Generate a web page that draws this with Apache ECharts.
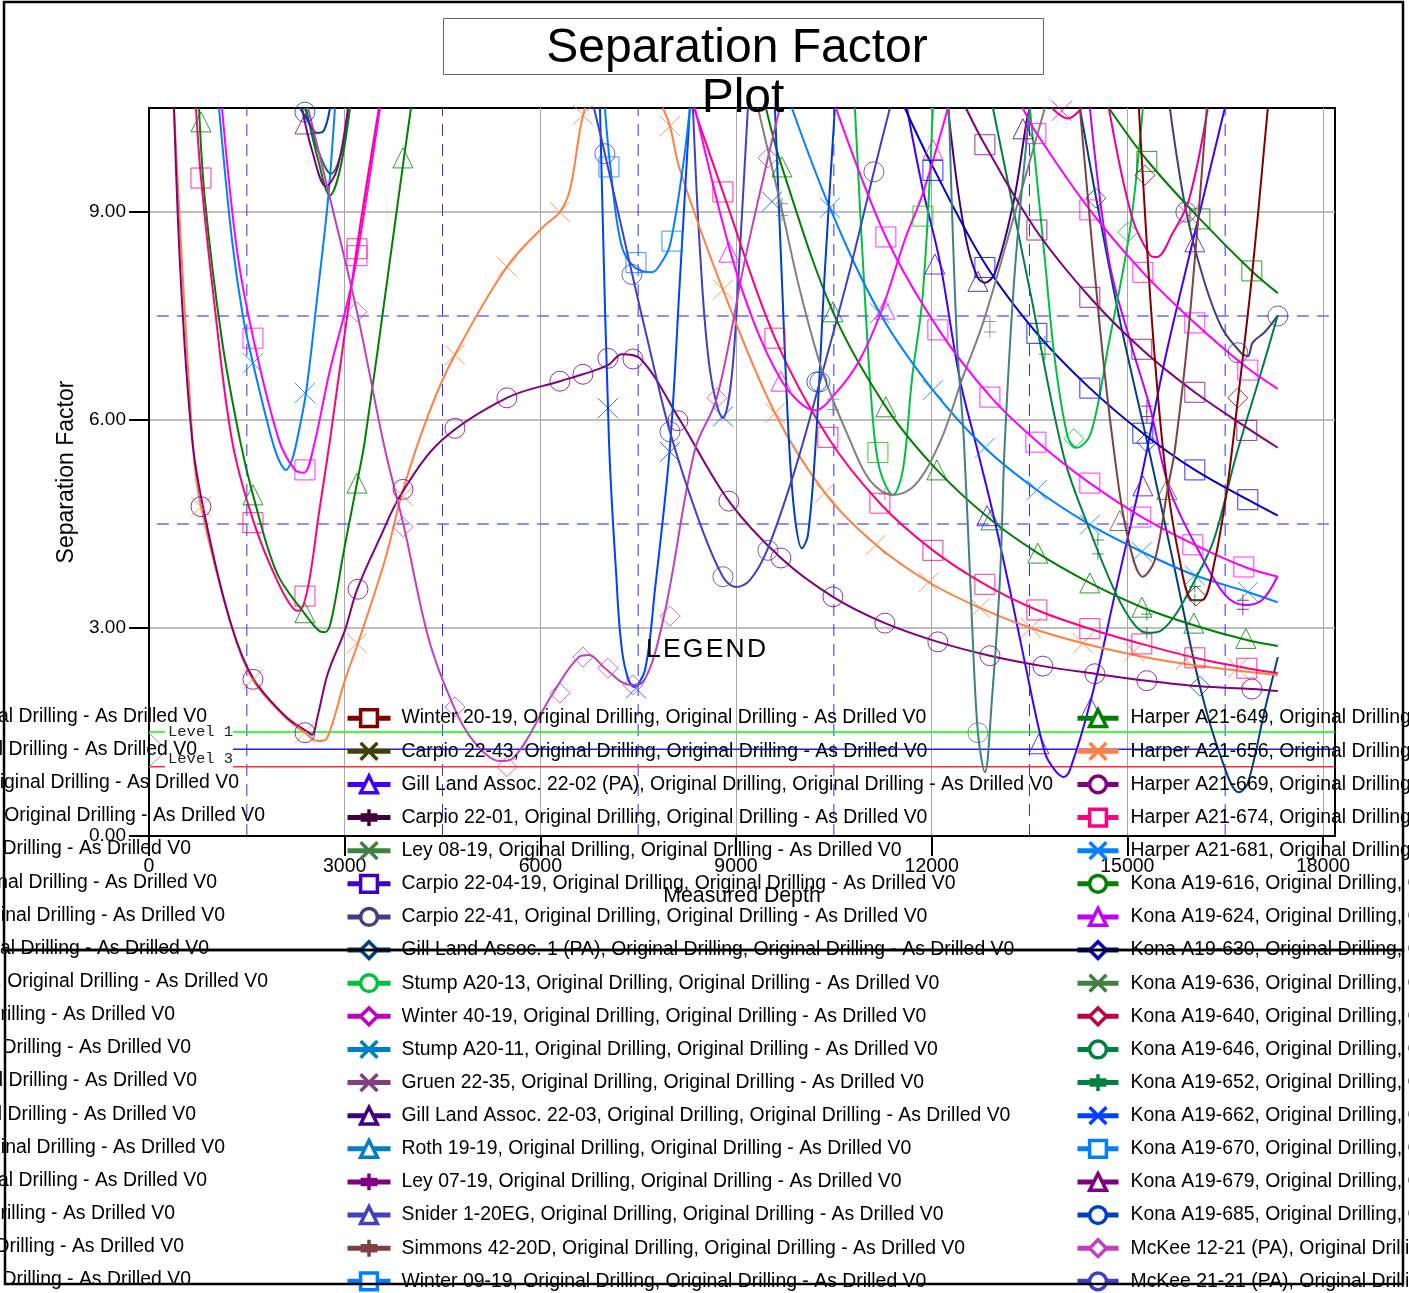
<!DOCTYPE html>
<html><head><meta charset="utf-8">
<style>html,body{margin:0;padding:0;background:#fff;overflow:hidden}#c{width:1409px;height:1293px}</style>
<script src="https://cdn.jsdelivr.net/npm/echarts@6/dist/echarts.min.js"></script>
</head><body><div id="c"></div>
<script>
// ---- axis ticks ----
const depthTicks=[0,3000,6000,9000,12000,15000,18000];
const factorTicks=[0,3,6,9];
const refDepths=[1500,4500,7500,10500,13500,16500];
const refFactors=[4.5,7.5];
const level1=[[0,1.5],[245,1.5],null,[1288,1.5],[18184,1.5]];
const level2=[[1288,1.25],[18184,1.25]];
const level3=[[0,1],[245,1],null,[1288,1],[18184,1]];

// ---- curves (depth, separation factor) ----
const h669Line=[[383,10.5],[490,7.98],[675,5.61],[935,4.27],[1272,3.01],[1594,2.28],[2100,1.72],[2437,1.5],[2499,1.46],[2591,1.75],[2744,2.35],[3005,2.97],[3189,3.55],[3526,4.27],[3878,4.95],[4492,5.71],[5488,6.32],[6300,6.56],[6653,6.66],[7036,6.79],[7251,6.95],[7527,6.89],[8140,6.0],[8891,4.83],[9689,4.01],[10486,3.45],[11283,3.07],[12095,2.8],[12893,2.6],[13705,2.45],[14502,2.34],[15299,2.24],[16112,2.16],[16909,2.12],[17307,2.09]];
const h669Marks=[[797,4.75],[1594,2.26],[2391,1.49],[3204,3.56],[3894,5.0],[4691,5.88],[5488,6.32],[6300,6.56],[6653,6.66],[7036,6.89],[7420,6.88],[8110,5.99],[8891,4.83],[9689,4.01],[10486,3.45],[11283,3.07],[12095,2.8],[12893,2.6],[13705,2.45],[14502,2.34],[15299,2.24],[16909,2.12]];
const h656Line=[[383,10.5],[675,5.61],[797,4.75],[1272,3.01],[1594,2.25],[2100,1.7],[2391,1.49],[2591,1.37],[2729,1.41],[3005,2.25],[3204,2.78],[3618,3.98],[3894,4.99],[4308,6.14],[4691,6.94],[5488,8.21],[6071,8.81],[6300,9.0],[6454,9.32],[6607,10.18],[6684,10.5],null,[7880,10.5],[7987,10.24],[8140,9.61],[8799,7.88],[9597,6.1],[10363,4.95],[11145,4.2],[11957,3.66],[12739,3.29],[13521,3.0],[14318,2.78],[15100,2.61],[15897,2.48],[17307,2.32]];
const h656Marks=[[797,4.75],[1594,2.26],[2391,1.49],[3189,2.78],[3894,4.9],[4691,6.94],[5488,8.21],[6300,9.0],[6653,10.4],[7987,10.24],[8799,7.88],[9597,6.1],[10363,4.95],[11145,4.2],[11957,3.66],[12739,3.29],[13521,3.0],[14318,2.78],[15100,2.66],[15897,2.55],[16694,2.42]];
const h674Line=[[720,10.5],[797,9.49],[996,7.73],[1272,5.71],[1594,4.56],[1962,3.69],[2238,3.26],[2300,3.25],[2438,3.59],[2606,4.66],[2775,5.71],[3189,8.5],[3526,10.5],null,[8355,10.5],[8799,9.29],[9597,7.18],[10409,5.75],[11206,4.8],[12019,4.12],[12816,3.63],[13613,3.26],[14425,2.99],[15222,2.77],[16035,2.57],[16832,2.42],[17307,2.35]];
const h674Marks=[[797,9.49],[1594,4.52],[2391,3.46],[3189,8.47],[8799,9.29],[9597,7.18],[10409,5.75],[11206,4.8],[12019,4.12],[12816,3.63],[13613,3.26],[14425,2.99],[15222,2.77],[16035,2.57],[16832,2.42]];
const h649Line=[[767,10.5],[858,9.17],[1119,7.15],[1395,5.71],[1594,4.92],[1962,3.79],[2376,3.22],[2606,2.96],[2698,2.94],[2790,3.09],[2989,4.12],[3189,5.09],[3311,5.71],[3695,8.31],[3909,9.78],[4017,10.5],null,[9459,10.5],[9704,9.65],[10486,7.56],[11298,6.19],[12080,5.28],[12908,4.56],[13628,4.08],[14425,3.65],[15223,3.3],[16020,3.04],[16817,2.83],[17307,2.74]];
const h649Marks=[[797,10.3],[1594,4.92],[2391,3.22],[3189,5.09],[3894,9.78],[9704,9.65],[10486,7.56],[11298,6.19],[12080,5.28],[12908,4.56],[13628,4.08],[14425,3.65],[15223,3.3],[16020,3.07],[16817,2.85]];
const h681Line=[[1073,10.5],[1272,8.6],[1441,7.49],[1594,6.82],[1886,5.71],[1993,5.42],[2100,5.28],[2192,5.42],[2269,5.71],[2407,6.39],[2591,7.87],[2744,9.17],[2851,10.5],null,[9857,10.5],[10440,9.06],[11206,7.54],[12019,6.43],[12816,5.6],[13613,4.99],[14425,4.49],[15222,4.1],[16035,3.76],[16847,3.52],[17307,3.37]];
const h681Marks=[[1594,6.82],[2391,6.39],[10440,9.06],[11206,7.54],[12019,6.43],[12816,5.6],[13613,4.99],[14425,4.49],[15222,4.1],[16035,3.76],[16847,3.52]];
const magentaLeftLine=[[1119,10.5],[1349,8.45],[1594,7.2],[1993,5.71],[2238,5.28],[2376,5.24],[2514,5.57],[2775,6.72],[3051,7.73],[3189,8.35],[3541,10.5]];
const magentaLeftMarks=[[1594,7.18],[2391,5.28],[3189,8.37]];
const mckee12Line=[[2438,10.5],[2744,9.32],[3189,7.56],[3603,5.64],[3909,4.46],[4292,2.83],[4676,1.86],[4967,1.38],[5381,1.08],[5580,1.12],[6193,2.06],[6592,2.58],[6745,2.61],[6990,2.42],[7374,2.18],[7573,2.22],[7895,3.17],[8370,5.57],[8707,6.32],[9137,8.31],[9489,9.78],[9673,10.5]];
const mckee12Marks=[[3189,7.56],[3894,4.46],[4691,1.86],[5488,1.0],[6300,2.06],[6653,2.58],[7036,2.42],[7420,2.18],[7987,3.17],[8707,6.32],[9489,9.78]];
const kona624Line=[[14426,10.5],[14717,8.31],[15039,7.15],[15345,6.19],[15652,4.99],[16112,4.08],[16495,3.48],[16802,3.33],[17062,3.4],[17307,3.75]];
const kona685Line=[[2315,10.5],[2407,10.36],[2575,10.14],[2683,10.18],[2775,10.5],null,[9597,10.5],[9704,8.02],[9811,5.71],[9903,4.6],[10010,4.15],[10103,4.34],[10225,5.71],[10363,8.16],[10516,10.5]];
const kona685Marks=[[2391,10.44],[10240,6.55]];
const kona679Line=[[2345,10.5],[2499,9.89],[2714,9.37],[2882,9.61],[3051,10.5]];
const kona679Marks=[[2391,10.27]];
const kona616Line=[[2407,10.5],[2591,9.76],[2775,9.24],[2928,9.61],[3081,10.5],null,[14717,10.5],[15299,9.75],[16112,8.9],[16894,8.16],[17307,7.83]];
const kona616Marks=[];
const darkGreenRectMarks=[[15299,9.73],[16112,8.9],[16909,8.15]];
const kona646Line=[[2391,10.5],[2591,9.89],[2790,9.55],[2959,9.89],[3066,10.5],null,[12939,10.5],[13506,7.87],[14027,5.47],[14425,4.41],[14824,3.5],[15115,3.04],[15314,2.93],[15529,2.97],[15759,3.22],[16035,3.69],[16326,4.27],[16664,5.47],[17062,6.72],[17307,7.51]];
const kona652Marks=[[13736,7.13],[13736,6.95],[14548,4.27],[14548,4.07],[15299,2.93],[15299,3.2],[16035,3.6],[16035,3.4]];
const kona670Line=[[6990,10.5],[7067,9.71],[7236,8.55],[7435,8.21],[7711,8.13],[7849,8.26],[7987,8.52],[8186,9.65],[8293,10.5]];
const kona670Marks=[[7052,9.65],[7466,8.27],[8018,8.58]];
const kona662Line=[[6914,10.5],[7052,5.71],[7159,3.84],[7267,2.58],[7435,2.15],[7604,2.39],[7757,3.55],[7987,5.61],[8140,8.02],[8293,10.5]];
const kona662Marks=[[7036,6.17],[7466,2.13],[7987,5.54],[9551,9.15],[8799,6.05]];
const mckee21Line=[[6822,10.5],[6990,9.84],[7404,8.12],[7680,7.01],[7987,5.83],[8447,4.51],[8799,3.74],[8999,3.59],[9213,3.69],[9489,4.15],[9903,5.28],[10286,6.55],[10746,8.16],[11114,9.58],[11360,10.5]];
const mckee21Marks=[[6990,9.84],[7404,8.1],[7987,5.83],[8799,3.74],[9489,4.12],[10286,6.55],[11114,9.58]];
const sniderLine=[[8340,10.5],[8447,8.45],[8600,6.72],[8799,6.03],[8937,6.65],[9060,8.45],[9182,10.5]];
const grayLine=[[9336,10.5],[9704,9.03],[9980,7.87],[10332,6.68],[10746,5.71],[11053,5.13],[11406,4.92],[11743,5.06],[12141,5.71],[12463,6.58],[12801,7.44],[13261,8.93],[13736,10.5]];
const grayMarks=[[9704,9.12],[10486,6.3],[11283,4.93],[12893,7.42],[9704,8.95],[10486,6.15],[12893,7.27]];
const stump13Line=[[10823,10.5],[10961,8.02],[11099,6.0],[11206,5.28],[11406,4.92],[11559,5.28],[11697,6.58],[11866,7.83],[12019,10.5]];
const stump13Marks=[[11176,5.53],[11866,8.94]];
const green2Line=[[13506,10.5],[13736,8.31],[13889,6.87],[14088,5.75],[14226,5.6],[14441,5.81],[14717,7.11],[15039,8.74],[15238,10.5]];
const green2Marks=[[14180,5.73],[15008,8.71]];
const tealLine=[[12264,10.5],[12387,7.15],[12494,5.71],[12617,3.12],[12709,1.49],[12816,0.92],[12923,1.96],[13046,3.69],[13123,5.71],[13276,8.16],[13506,10.5]];
const tealMarks=[[12709,1.49]];
const gill2202Line=[[11620,10.5],[11866,9.32],[12126,8.28],[12433,6.58],[12663,5.71],[12939,4.66],[13199,3.55],[13429,2.5],[13736,1.2],[13889,0.95],[14027,0.85],[14119,0.95],[14441,1.96],[14824,3.55],[15238,5.28],[15576,6.87],[16035,8.7],[16495,10.5]];
const gill2202Marks=[[12049,8.25],[12847,4.62],[13644,1.33],[14441,1.85],[15238,5.05],[16035,8.57]];
const kona630Line=[[11589,10.5],[12003,9.68],[12801,8.28],[13613,7.25],[14425,6.46],[15238,5.81],[16035,5.28],[16847,4.85],[17307,4.62]];
const kona630Marks=[[12019,9.6],[12816,8.2],[13613,7.25],[14425,6.46],[15238,5.81],[16035,5.28],[16847,4.85]];
const pinkALine=[[10532,10.5],[11298,8.64],[12111,7.3],[12908,6.33],[13628,5.68],[14425,5.09],[15222,4.6],[16035,4.2],[16802,3.88],[17307,3.74]];
const pinkAMarks=[[11298,8.64],[12095,7.3],[12893,6.33],[13598,5.68],[14425,5.09],[15206,4.6],[16005,4.2],[16786,3.88]];
const pinkBLine=[[13398,10.5],[13598,10.15],[14425,9.03],[15238,8.13],[16035,7.4],[16802,6.78],[17307,6.45]];
const pinkBMarks=[[13598,10.13],[14425,9.03],[15238,8.13],[16035,7.4],[16847,6.72]];
const pinkCLine=[[8370,10.5],[8907,8.45],[9290,7.37],[9689,6.58],[9980,6.25],[10210,6.14],[10532,6.39],[10899,6.87],[11237,7.59],[11589,8.6],[11866,9.27],[12249,10.5]];
const pinkCMarks=[[8891,8.42],[9689,6.56],[11283,7.6],[12019,9.9]];
const roseLine=[[14717,10.5],[15070,8.93],[15345,8.38],[15453,8.35],[15698,8.7],[15943,9.17],[16234,10.5],null,[13843,10.5],[14088,10.35],[14303,10.5]];
const roseMarks=[[15943,8.95],[13997,10.46]];
const harper669bLine=[[12525,10.5],[12816,9.97],[13598,8.74],[14425,7.77],[15222,7.02],[16035,6.4],[16847,5.88],[17307,5.6]];
const harper669bMarks=[[12816,9.97],[13613,8.74],[14425,7.77],[15222,7.02],[16035,6.4],[16832,5.85]];
const gill2203Line=[[12249,10.5],[12402,9.32],[12555,8.49],[12709,8.05],[12816,7.98],[12969,8.12],[13261,9.17],[13460,10.33],[13506,10.5]];
const gill2203Marks=[[12709,8.0],[13399,10.2]];
const darkRedLine=[[15177,10.5],[15238,9.5],[15376,7.44],[15560,5.47],[15775,4.12],[16005,3.4],[16143,3.4],[16342,3.98],[16526,4.99],[16694,6.29],[16909,8.06],[17154,10.5]];
const darkRedMarks=[[15269,9.53],[16050,3.46],[16694,6.32]];
const brownLine=[[14272,10.5],[14579,7.34],[14793,5.57],[14993,4.37],[15238,3.74],[15422,3.98],[15622,5.03],[15729,5.57],[15943,7.34],[16219,10.5]];
const brownMarks=[[14885,4.55],[15606,5.0]];
const gill1Line=[[14272,10.5],[14518,9.22],[14885,7.44],[15314,5.64],[15729,3.84],[16112,2.16],[16449,1.1],[16710,0.63],[16847,0.76],[17108,1.82],[17307,2.58]];
const gill1Marks=[[14518,9.2],[15299,5.68],[16112,2.16]];
const carpio41Line=[[15652,10.5],[15897,9.03],[16173,8.02],[16449,7.33],[16741,6.97],[16847,6.92],[16924,7.12],[17108,7.27],[17307,7.51]];
const carpio41Marks=[[15897,9.0],[16694,6.97],[17307,7.5]];
const ley07Marks=[[16771,3.4],[16771,3.27],[15299,6.2],[15299,6.05]];

// ---- legend texts ----
const drillSuffix=', Original Drilling, Original Drilling - As Drilled V0';
const legendTail='Original Drilling, Original Drilling - As Drilled V0';
const col2Wells=['Winter 20-19','Carpio 22-43','Gill Land Assoc. 22-02 (PA)','Carpio 22-01','Ley 08-19','Carpio 22-04-19','Carpio 22-41','Gill Land Assoc. 1 (PA)','Stump A20-13','Winter 40-19','Stump A20-11','Gruen 22-35','Gill Land Assoc. 22-03','Roth 19-19','Ley 07-19','Snider 1-20EG','Simmons 42-20D','Winter 09-19'];
const col3Wells=['Harper A21-649','Harper A21-656','Harper A21-669','Harper A21-674','Harper A21-681','Kona A19-616','Kona A19-624','Kona A19-630','Kona A19-636','Kona A19-640','Kona A19-646','Kona A19-652','Kona A19-662','Kona A19-670','Kona A19-679','Kona A19-685','McKee 12-21 (PA)','McKee 21-21 (PA)'];
const col2Colors=['#800000','#404000','#4000ff','#400040','#408040','#4000c0','#404080','#004080','#00c040','#c000c0','#0080c0','#804080','#400080','#0080c0','#800080','#4040c0','#804040','#0080ff'];
const col3Colors=['#008000','#ff8040','#800080','#ff0080','#0080ff','#008000','#c000ff','#0000c0','#408040','#c00040','#008040','#008040','#0040ff','#0080ff','#800080','#0040c0','#c040c0','#4040c0'];
const col2Symbols=['rect','x','tri','plus','x','rect','circle','diamond','circle','diamond','x','x','tri','tri','plus','tri','plus','rect'];
const col3Symbols=['tri','x','circle','rect','x','circle','tri','diamond','x','diamond','circle','plus','x','rect','tri','circle','diamond','circle'];
const col1Ends=[207,197,239,265,191,217,225,209,268,175,191,197,196,225,207,175,184,191];

const curvesByWell={
 'Gill Land Assoc. 22-02 (PA)':[gill2202Line,gill2202Marks],
 'Carpio 22-41':[carpio41Line,carpio41Marks],
 'Gill Land Assoc. 1 (PA)':[gill1Line,gill1Marks],
 'Stump A20-13':[stump13Line,[]],
 'Gill Land Assoc. 22-03':[gill2203Line,gill2203Marks],
 'Ley 07-19':[[],ley07Marks],
 'Snider 1-20EG':[sniderLine,[]],
 'Harper A21-649':[h649Line,h649Marks],
 'Harper A21-656':[h656Line,h656Marks],
 'Harper A21-669':[h669Line,h669Marks],
 'Harper A21-674':[h674Line,h674Marks],
 'Harper A21-681':[h681Line,h681Marks],
 'Kona A19-616':[kona616Line,kona616Marks],
 'Kona A19-624':[kona624Line,[]],
 'Kona A19-630':[kona630Line,[]],
 'Kona A19-646':[kona646Line,[]],
 'Kona A19-652':[[],kona652Marks],
 'Kona A19-662':[kona662Line,kona662Marks],
 'Kona A19-670':[kona670Line,kona670Marks],
 'Kona A19-679':[kona679Line,kona679Marks],
 'Kona A19-685':[kona685Line,kona685Marks],
 'McKee 12-21 (PA)':[mckee12Line,mckee12Marks],
 'McKee 21-21 (PA)':[mckee21Line,mckee21Marks]
};
// curves whose well sits in the off-page legend column
const otherCurves=[
 ['Other A','#ff00ff','rect',magentaLeftLine,magentaLeftMarks],
 ['Other B','#808080','plus',grayLine,grayMarks],
 ['Other C','#00c000','rect',[],stump13Marks],
 ['Other D','#00c040','diamond',green2Line,green2Marks],
 ['Other E','#ff00ff','rect',pinkALine,pinkAMarks],
 ['Other F','#ff00ff','rect',pinkBLine,pinkBMarks],
 ['Other G','#ff00ff','tri',pinkCLine,pinkCMarks],
 ['Other H','#e800a0','x',roseLine,roseMarks],
 ['Other I','#800080','rect',harper669bLine,harper669bMarks],
 ['Other J','#0000ff','rect',[],kona630Marks],
 ['Other K','#008000','rect',[],darkGreenRectMarks],
 ['Other L','#408080','circle',tealLine,tealMarks],
 ['Other M','#800000','diamond',darkRedLine,darkRedMarks],
 ['Other N','#804040','tri',brownLine,brownMarks]
];

const SYM={rect:'rect',circle:'circle',diamond:'diamond',tri:'triangle',
 x:'path://M0 0L10 10M10 0L0 10',plus:'path://M5 0L5 10M2.5 3.5L7.5 3.5M2.5 6.5L7.5 6.5'};
const PLOT_PLUS='path://M5 0L5 10M0 5L10 5';
const FONT='"Liberation Sans",Arial,sans-serif';
const series=[];
function addCurve(name,color,sym,line,marks){
 series.push({type:'line',name,data:line,smooth:0.35,showSymbol:false,symbol:SYM[sym],silent:true,
  lineStyle:{color,width:2},itemStyle:{color},z:3,animation:false});
 if(marks.length) series.push({type:'scatter',name,data:marks,symbol:sym==='plus'?PLOT_PLUS:SYM[sym],symbolSize:sym==='plus'?12:20,silent:true,
  itemStyle:{color:'rgba(0,0,0,0)',borderColor:color,borderWidth:1},z:4,animation:false});
}
function addColumn(names,colors,syms){
 names.forEach((w,i)=>{const c=curvesByWell[w]||[[],[]];addCurve(w+drillSuffix,colors[i],syms[i],c[0],c[1]);});
}
addColumn(col2Wells,col2Colors,col2Symbols);
addColumn(col3Wells,col3Colors,col3Symbols);
otherCurves.forEach(c=>addCurve(c[0],c[1],c[2],c[3],c[4]));

refDepths.forEach(d=>series.push({type:'line',name:'ref',data:[[d,0],[d,10.5]],showSymbol:false,silent:true,z:1,
 lineStyle:{color:'#3030ff',width:1,type:[12,8]}}));
refFactors.forEach(f=>series.push({type:'line',name:'ref',data:[[120,f],[18184,f]],showSymbol:false,silent:true,z:1,
 lineStyle:{color:'#6a6aff',width:1.5,type:[12,8]}}));
[['Level 1',level1,'#00ff00'],['Level 2',level2,'#2020ff'],['Level 3',level3,'#ff3030']].forEach(l=>
 series.push({type:'line',name:l[0],data:l[1],showSymbol:false,silent:true,z:2,lineStyle:{color:l[2],width:1.5}}));

function legendFor(names,colors,left,iw,pad){
 return {show:true,orient:'vertical',left,top:708,padding:0,itemWidth:iw,itemHeight:21,itemGap:12.83,selectedMode:false,
  height:640,z:6,lineStyle:{width:5},
  textStyle:{fontFamily:FONT,fontSize:19.4,color:'#000',padding:[0,0,0,pad]},
  data:names.map((w,i)=>({name:w+drillSuffix,itemStyle:{color:'#fff',borderColor:colors[i],borderWidth:3.5}}))};
}
const graphic=[
 {type:'rect',shape:{x:443.5,y:18.5,width:600,height:56},style:{fill:'none',stroke:'#666',lineWidth:1},z:1},
 {type:'rect',shape:{x:4,y:2,width:1399,height:948},style:{fill:'none',stroke:'#000',lineWidth:2.5},z:50},
 {type:'rect',shape:{x:5,y:950,width:1398,height:334},style:{fill:'none',stroke:'#000',lineWidth:2.5},z:50},
 {type:'polyline',shape:{points:[[149,733],[167,750],[149,767]]},style:{fill:'none',stroke:'#999',lineWidth:1},z:5},
 {type:'text',x:168,y:732,style:{text:'Level 1',font:'15.5px "Liberation Mono",monospace',fill:'#222',textVerticalAlign:'middle'},z:5},
 {type:'text',x:168,y:759,style:{text:'Level 3',font:'15.5px "Liberation Mono",monospace',fill:'#222',textVerticalAlign:'middle'},z:5},
 {type:'text',x:706,y:650,style:{text:'L\u200AE\u200AG\u200AE\u200AN\u200AD',font:'26.5px '+FONT,fill:'#000',textAlign:'center',textVerticalAlign:'middle'},z:6}
];
col1Ends.forEach((e,i)=>graphic.push({type:'text',x:e,y:716.5+i*33.15,
 style:{text:legendTail,font:'19.4px '+FONT,fill:'#000',textAlign:'right',textVerticalAlign:'middle'},z:6}));

const chart=echarts.init(document.getElementById('c'),null,{renderer:'canvas'});
chart.setOption({
 animation:false,backgroundColor:'#fff',
 title:[
  {text:'Separation Factor',left:732,top:20,textAlign:'center',textStyle:{fontFamily:FONT,fontWeight:'normal',fontSize:48,color:'#000'}},
  {text:'Plot',left:738,top:70,textAlign:'center',textStyle:{fontFamily:FONT,fontWeight:'normal',fontSize:48,color:'#000'}}
 ],
 grid:{left:149,top:108,width:1186,height:728,show:true,borderColor:'#000',borderWidth:2,backgroundColor:'transparent',containLabel:false},
 xAxis:{type:'value',min:0,max:18184,name:'Measured Depth',nameLocation:'middle',nameGap:50,
  nameTextStyle:{fontFamily:FONT,fontSize:21.3,color:'#000'},
  axisLine:{onZero:false,lineStyle:{color:'#000',width:2}},
  axisTick:{show:true,length:20,customValues:depthTicks,lineStyle:{color:'#000',width:2}},
  axisLabel:{customValues:depthTicks,fontFamily:FONT,fontSize:19.5,color:'#000',margin:21,formatter:v=>String(v)},
  splitLine:{show:true,lineStyle:{color:'#a8a8a8',width:1}}},
 yAxis:{type:'value',min:0,max:10.5,name:'Separation Factor',nameLocation:'middle',nameGap:59,
  nameTextStyle:{fontFamily:FONT,fontSize:23,color:'#000'},
  axisLine:{onZero:false,lineStyle:{color:'#000',width:2}},
  axisTick:{show:true,length:20,customValues:factorTicks,lineStyle:{color:'#000',width:2}},
  axisLabel:{customValues:factorTicks,fontFamily:FONT,fontSize:19,color:'#000',margin:23,formatter:v=>v.toFixed(2)},
  splitLine:{show:true,lineStyle:{color:'#a8a8a8',width:1.5}}},
 legend:[legendFor(col2Wells,col2Colors,345,43,6),legendFor(col3Wells,col3Colors,1075,41,7)],
 graphic:graphic,
 series:series
});
</script></body></html>
